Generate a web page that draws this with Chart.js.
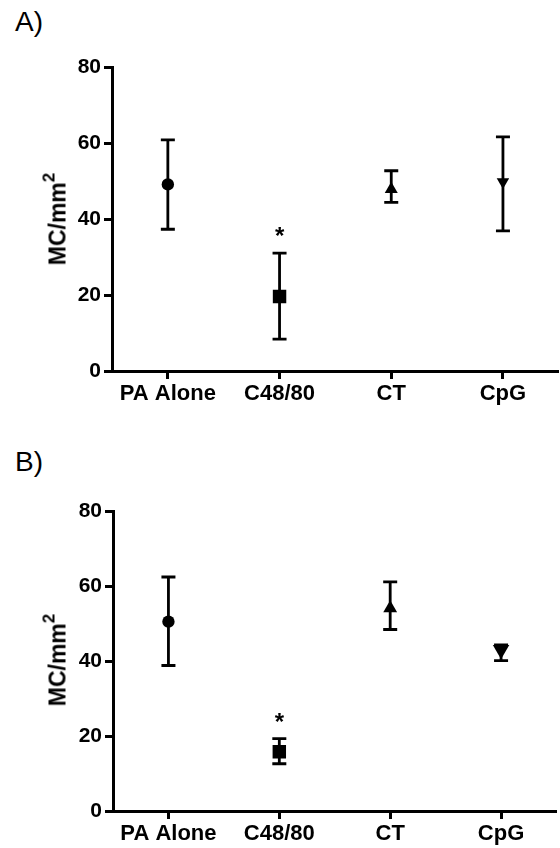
<!DOCTYPE html>
<html><head><meta charset="utf-8">
<script src="https://cdn.jsdelivr.net/npm/chart.js@4"></script>
<style>
html,body{margin:0;padding:0;background:#fff;overflow:hidden;width:560px;height:848px;position:relative;}
.panel{position:absolute;left:0;width:566px;}
#wrapA{top:0;height:420px;}
#wrapB{top:424px;height:424px;}
.lab{position:absolute;left:15px;font:28px "Liberation Sans",Arial,sans-serif;line-height:28px;color:#000;}
.ytitle{position:absolute;left:59px;font:bold 23px "Liberation Sans",Arial,sans-serif;line-height:23px;color:#000;white-space:nowrap;transform:translate(-50%,-50%) rotate(-90deg);z-index:2;}
.ytitle span{font-size:17px;position:relative;top:-11px;}
</style></head><body>
<div class="lab" style="top:8px">A)</div>
<div class="lab" style="top:448px">B)</div>
<div class="panel" id="wrapA"><canvas id="cA" width="566" height="420"></canvas></div>
<div class="panel" id="wrapB"><canvas id="cB" width="566" height="424"></canvas></div>
<div class="ytitle" id="tA" style="top:219px"></div>
<div class="ytitle" id="tB" style="top:660px"></div>
<script>
const categories = ['PA Alone', 'C48/80', 'CT', 'CpG'];
const yTicks = [0, 20, 40, 60, 80];
const yTitleMain = 'MC/mm';
const yTitleSup = '2';

const meanA  = [49.1, 19.6, 47.8, 49.8];
const upperA = [60.8, 31.0, 52.7, 61.6];
const lowerA = [37.3, 8.4, 44.4, 36.9];
const sigA   = ['', '*', '', ''];

const meanB  = [50.5, 15.8, 54.1, 43.0];
const upperB = [62.4, 19.3, 61.1, 44.3];
const lowerB = [38.8, 12.6, 48.4, 40.1];
const sigB   = ['', '*', '', ''];

const FAMILY = '"Liberation Sans", Arial, sans-serif';

['tA', 'tB'].forEach(id => {
  const el = document.getElementById(id);
  el.appendChild(document.createTextNode(yTitleMain));
  const s = document.createElement('span');
  s.textContent = yTitleSup;
  el.appendChild(s);
});

function errPlugin(upper, lower, sig) {
  return {
    id: 'errbars',
    beforeDatasetsDraw(chart) {
      const {ctx, scales: {x, y}} = chart;
      ctx.save();
      ctx.strokeStyle = '#000';
      ctx.fillStyle = '#000';
      ctx.lineWidth = 2.8;
      ctx.lineCap = 'butt';
      upper.forEach((u, i) => {
        const px = x.getPixelForValue(i);
        const pu = y.getPixelForValue(u);
        const pl = y.getPixelForValue(lower[i]);
        ctx.beginPath();
        ctx.moveTo(px, pu); ctx.lineTo(px, pl);
        ctx.moveTo(px - 7, pu); ctx.lineTo(px + 7, pu);
        ctx.moveTo(px - 7, pl); ctx.lineTo(px + 7, pl);
        ctx.stroke();
        if (sig[i]) {
          ctx.font = 'bold 24px ' + FAMILY;
          ctx.textAlign = 'center';
          ctx.textBaseline = 'alphabetic';
          ctx.fillText(sig[i], px, pu - 23 + 14);
        }
      });
      ctx.restore();
    }
  };
}

function makeChart(id, mean, upper, lower, sig, cfg) {
  const xFont = {family: FAMILY, size: 22, weight: 'bold'};
  const yFont = {family: FAMILY, size: 21, weight: 'bold'};
  return new Chart(document.getElementById(id), {
    type: 'line',
    data: {
      labels: categories,
      datasets: [{
        data: mean,
        showLine: false,
        pointStyle: ['circle', 'rect', 'triangle', 'triangle'],
        pointRotation: [0, 0, 0, 180],
        pointRadius: cfg.radii,
        pointHoverRadius: cfg.radii,
        pointBackgroundColor: '#000',
        pointBorderColor: '#000',
        pointBorderWidth: 0
      }]
    },
    options: {
      responsive: false,
      animation: false,
      events: [],
      layout: {padding: {top: cfg.top, left: 0, right: 0, bottom: 0}},
      plugins: {legend: {display: false}, tooltip: {enabled: false}},
      scales: {
        x: {
          offset: true,
          grid: {display: true, drawOnChartArea: false, drawTicks: true, tickLength: 8, tickWidth: 3, tickColor: '#000', offset: false},
          border: {display: true, color: '#000', width: 3},
          ticks: {color: '#000', font: xFont, padding: 2, maxRotation: 0, autoSkip: false},
          afterFit: s => { s.height = cfg.xh; }
        },
        y: {
          min: 0, max: 80,
          afterBuildTicks: s => { s.ticks = yTicks.map(v => ({value: v})); },
          grid: {display: true, drawOnChartArea: false, drawTicks: true, tickLength: 8, tickWidth: 3, tickColor: '#000'},
          border: {display: true, color: '#000', width: 3},
          ticks: {color: '#000', font: yFont, padding: 3},
          title: {display: false},
          afterFit: s => { s.width = cfg.yw; }
        }
      }
    },
    plugins: [errPlugin(upper, lower, sig)]
  });
}

makeChart('cA', meanA, upperA, lowerA, sigA, {top: 67, xh: 49, yw: 112, radii: [6.2, 9.5, 7.5, 7.2]});
makeChart('cB', meanB, upperB, lowerB, sigB, {top: 87, xh: 37, yw: 113, radii: [6.2, 9.5, 8, 9.5]});
</script>
</body></html>
